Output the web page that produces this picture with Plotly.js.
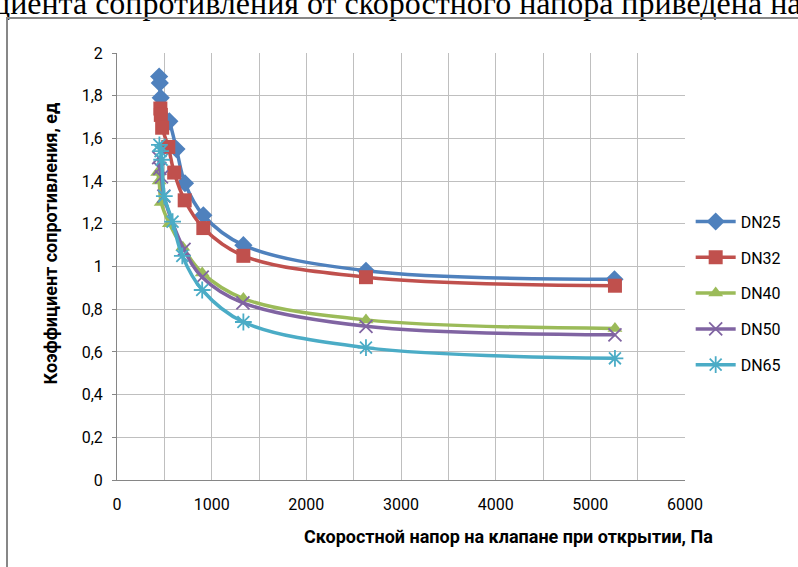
<!DOCTYPE html>
<html>
<head>
<meta charset="utf-8">
<script src="https://cdn.plot.ly/plotly-3.0.1.min.js"></script>
<style>
  html, body { margin:0; padding:0; width:798px; height:567px; overflow:hidden; background:#fff; }
  #toptext { position:absolute; left:-7px; top:-13px; white-space:nowrap; font-family:"Liberation Serif","Times New Roman",serif; font-size:32px; line-height:1; color:#000; }
  #frame { position:absolute; left:6px; top:17px; width:900px; height:700px; border:2px solid #878787; box-sizing:border-box; }
  #chart { position:absolute; left:0; top:0; width:798px; height:567px; }
</style>
</head>
<body>
<div id="toptext">циента сопротивления от скоростного напора приведена на</div>
<div id="frame"></div>
<div id="chart"></div>
<script>
// Data
const seriesNames = ["DN25", "DN32", "DN40", "DN50", "DN65"];

const xDN25 = [445, 452, 462, 553, 628, 718, 912, 1335, 2630, 5255];
const yDN25 = [1.89, 1.86, 1.79, 1.68, 1.55, 1.39, 1.24, 1.10, 0.98, 0.94];

const xDN32 = [458, 463, 477, 542, 604, 715, 912, 1335, 2630, 5260];
const yDN32 = [1.74, 1.71, 1.65, 1.56, 1.44, 1.31, 1.18, 1.05, 0.95, 0.91];

const xDN40 = [430, 445, 467, 553, 695, 900, 1335, 2630, 5260];
const yDN40 = [1.44, 1.40, 1.30, 1.20, 1.09, 0.97, 0.85, 0.75, 0.71];

const xDN50 = [440, 452, 470, 495, 708, 900, 1330, 2630, 5260];
const yDN50 = [1.51, 1.46, 1.42, 1.33, 1.08, 0.95, 0.83, 0.72, 0.68];

const xDN65 = [448, 460, 472, 500, 587, 690, 900, 1335, 2630, 5260];
const yDN65 = [1.57, 1.54, 1.50, 1.33, 1.21, 1.05, 0.89, 0.74, 0.62, 0.57];

const xTickVals = [0, 1000, 2000, 3000, 4000, 5000, 6000];
const yTickVals = [0, 0.2, 0.4, 0.6, 0.8, 1, 1.2, 1.4, 1.6, 1.8, 2];

const xTitle = "Скоростной напор на клапане при открытии, Па";
const yTitle = "Коэффициент сопротивления, ед";

const colors = ["#4F81BD", "#C0504D", "#9BBB59", "#8064A2", "#4BACC6"];
const xs = [xDN25, xDN32, xDN40, xDN50, xDN65];
const ys = [yDN25, yDN32, yDN40, yDN50, yDN65];
const markerDefs = [
  {symbol:"diamond", size:14, color:colors[0], line:{width:0}},
  {symbol:"square", size:14, color:colors[1], line:{width:0}},
  {symbol:"triangle-up", size:13, color:colors[2], line:{width:0}},
  {symbol:"x-thin-open", size:13, color:colors[3], line:{width:1.8, color:colors[3]}},
  {symbol:"asterisk-open", size:14, color:colors[4], line:{width:1.8, color:colors[4]}}
];

const traces = seriesNames.map((name, i) => ({
  type: "scatter",
  mode: "lines+markers",
  name: name,
  legendgroup: name,
  x: xs[i],
  y: ys[i],
  line: {color: colors[i], width: 3.5, shape: "spline", smoothing: 1},
  marker: markerDefs[i]
}));

const fontFam = "Roboto, 'Noto Sans', sans-serif";

const layout = {
  width: 798,
  height: 567,
  paper_bgcolor: "rgba(0,0,0,0)",
  plot_bgcolor: "#ffffff",
  separators: ", ",
  margin: {l: 117, r: 101, t: 53, b: 87, pad: 0},
  font: {family: fontFam, size: 16, color: "#000"},
  showlegend: true,
  legend: {
    x: 1.01, xanchor: "left", y: 0.645, yanchor: "top",
    font: {family: fontFam, size: 16, color: "#000"},
    tracegroupgap: 12,
    bgcolor: "rgba(0,0,0,0)",
    itemwidth: 40
  },
  xaxis: {
    range: [0, 6000],
    tickvals: xTickVals,
    ticks: "",
    ticklabelstandoff: 10,
    showgrid: true,
    gridcolor: "#BFBFBF",
    gridwidth: 1,
    minor: {dtick: 500, showgrid: true, gridcolor: "#BFBFBF", gridwidth: 1},
    showline: true,
    linecolor: "#868686",
    linewidth: 1,
    zeroline: false,
    tickfont: {family: fontFam, size: 16, color: "#000"},
    automargin: false
  },
  yaxis: {
    range: [0, 2],
    tickvals: yTickVals,
    ticks: "outside",
    ticklen: 4,
    tickcolor: "#868686",
    ticklabelstandoff: 6,
    showgrid: true,
    gridcolor: "#BFBFBF",
    gridwidth: 1,
    showline: true,
    linecolor: "#868686",
    linewidth: 1,
    zeroline: false,
    tickfont: {family: fontFam, size: 16, color: "#000"},
    automargin: false
  },
  annotations: [
    {text: "<b>" + yTitle + "</b>", xref: "paper", yref: "paper", x: -0.117, y: 0.553,
     textangle: -90, showarrow: false, font: {family: fontFam, size: 18, color: "#000"},
     xanchor: "center", yanchor: "middle"},
    {text: "<b>" + xTitle + "</b>", xref: "paper", yref: "paper", x: 0.69, y: -0.133,
     showarrow: false, font: {family: fontFam, size: 18, color: "#000"},
     xanchor: "center", yanchor: "middle"}
  ]
};

Plotly.newPlot("chart", traces, layout, {displayModeBar: false, staticPlot: true});
</script>
</body>
</html>
